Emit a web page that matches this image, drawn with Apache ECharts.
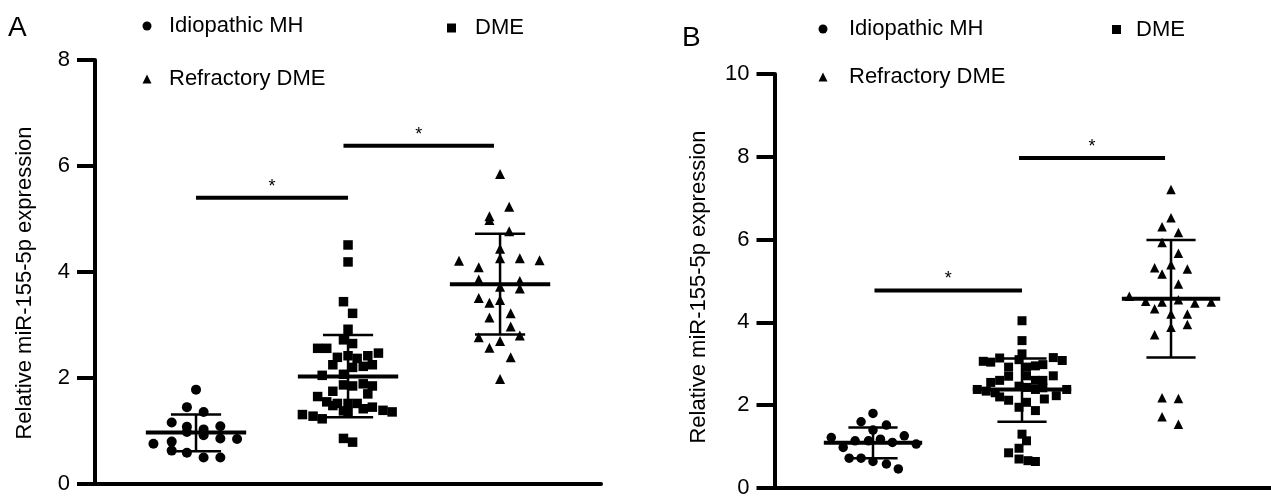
<!DOCTYPE html>
<html>
<head>
<meta charset="utf-8" />
<script src="https://cdn.jsdelivr.net/npm/echarts@6/dist/echarts.min.js"></script>
<style>
  html, body { margin: 0; padding: 0; background: #fff; }
  #main { width: 1271px; height: 499px; }
</style>
</head>
<body>
<div id="main"></div>
<script>
// groups sit at x = 1, 2, 3 ; each point is [offset from group centre, value]
var groups = ['Idiopathic MH', 'DME', 'Refractory DME'];

// ---- panel A ----
var mhA = [[0,1.78],[-0.06,1.45],[0.05,1.36],[-0.16,1.16],[-0.06,1.08],[0.05,1.03],[0.16,1.09],[-0.06,0.98],[0.05,0.92],
  [0.16,0.86],[0.27,0.85],[-0.16,0.80],[-0.28,0.76],[-0.16,0.63],[-0.06,0.59],[0.05,0.50],[0.16,0.50]];
var dmeA = [[0,4.51],[0,4.19],[-0.03,3.44],[0.03,3.22],[0,2.92],[-0.03,2.72],[0.03,2.65],[-0.20,2.56],[-0.14,2.56],
  [-0.07,2.39],[0,2.42],[0.06,2.37],[0.13,2.42],[0.20,2.47],[-0.10,2.25],[0.03,2.20],[0.10,2.22],[0.16,2.25],
  [-0.17,2.05],[-0.03,2.07],[-0.03,1.87],[0.03,1.85],[0.10,1.89],[0.16,1.85],[0.13,1.70],[-0.10,1.75],[-0.20,1.65],
  [-0.14,1.55],[-0.10,1.48],[-0.07,1.52],[0,1.52],[0.06,1.52],[-0.03,1.38],[0,1.36],[0.10,1.42],[0.16,1.45],
  [0.23,1.39],[0.29,1.36],[-0.30,1.31],[-0.23,1.28],[-0.17,1.23],[-0.03,0.86],[0.03,0.79]];
var refA = [[0,5.85],[0.06,5.23],[-0.07,5.05],[-0.07,4.98],[0.06,4.77],[0,4.44],[0,4.26],[0.13,4.26],[0.26,4.22],
  [-0.27,4.21],[-0.14,4.09],[-0.14,3.86],[0.13,3.83],[0.13,3.69],[0,3.72],[-0.14,3.51],[-0.07,3.42],[0,3.47],
  [0.07,3.22],[-0.07,3.14],[0.07,2.97],[-0.14,2.77],[0.13,2.80],[0,2.70],[-0.07,2.57],[0.07,2.39],[0,1.98]];
var meanA = [0.97, 2.03, 3.77];
var lowA = [0.62, 1.26, 2.82];
var highA = [1.31, 2.81, 4.72];
var sigA = [[1, 2, 5.40], [1.97, 2.96, 6.38]];   // from, to, height
var ticksA = [0, 8, 2];

// ---- panel B ----
var mhB = [[0,1.80],[-0.08,1.60],[0.09,1.52],[0,1.40],[-0.28,1.22],[0.21,1.26],[-0.20,0.98],[-0.12,1.14],[-0.03,1.14],
  [0.05,1.18],[0.13,1.10],[0.29,1.06],[-0.16,0.72],[-0.08,0.72],[0,0.64],[0.09,0.58],[0.17,0.46]];
var dmeB = [[0,4.04],[0,3.56],[0,3.24],[-0.26,3.06],[-0.21,3.04],[-0.15,3.14],[-0.02,3.10],[0.21,3.15],[0.27,3.08],
  [-0.09,2.92],[0.03,2.92],[0.09,2.95],[0.14,2.98],[-0.09,2.70],[0.03,2.71],[0.21,2.71],[-0.21,2.55],[-0.15,2.60],
  [0.09,2.60],[0.14,2.60],[-0.30,2.38],[-0.24,2.34],[-0.18,2.30],[-0.02,2.46],[0.03,2.43],[0.09,2.38],[0.14,2.42],
  [0.30,2.38],[0.23,2.23],[-0.15,2.20],[-0.09,2.12],[0.03,2.07],[0.15,2.15],[-0.02,1.95],[0.09,1.87],[0,1.30],
  [0.03,1.14],[-0.02,0.96],[-0.09,0.85],[-0.02,0.70],[0.04,0.66],[0.09,0.64]];
var refB = [[0,7.21],[0,6.53],[-0.06,6.31],[0.05,6.17],[-0.06,5.93],[0.05,5.67],[0,5.39],[-0.11,5.32],[-0.06,5.17],
  [0.11,5.29],[0.05,4.93],[-0.28,4.63],[-0.17,4.51],[-0.06,4.49],[0.05,4.55],[0.16,4.47],[0.27,4.49],[-0.11,4.33],
  [0,4.20],[0.11,4.20],[0.11,3.95],[0,3.88],[-0.11,3.70],[-0.06,2.18],[0.05,2.16],[-0.06,1.72],[0.05,1.54]];
var meanB = [1.09, 2.38, 4.57];
var lowB = [0.72, 1.60, 3.15];
var highB = [1.46, 3.13, 5.99];
var sigB = [[1.01, 2.0, 4.77], [1.98, 2.96, 7.97]];
var ticksB = [0, 10, 2];

var FONT = 'Liberation Sans, Arial, Helvetica, sans-serif';
var yTitle = 'Relative miR-155-5p expression';

function scatter(name, symbol, pts, pos, idx, size) {
  return {
    type: 'scatter', name: name, symbol: symbol, symbolSize: size,
    xAxisIndex: idx, yAxisIndex: idx,
    itemStyle: { color: '#000', opacity: 1 },
    silent: true, z: 3,
    data: pts.map(function (p) { return [pos + p[0], p[1]]; })
  };
}

function errorBars(params, api) {
  var x = api.value(0);
  var m = api.coord([x, api.value(1)]);
  var lo = api.coord([x, api.value(2)]);
  var hi = api.coord([x, api.value(3)]);
  var wm = api.size([0.33, 0])[0];
  var ws = api.size([0.165, 0])[0];
  var st = { stroke: '#000', lineWidth: 2.5 };
  return {
    type: 'group',
    children: [
      { type: 'line', shape: { x1: m[0], y1: lo[1], x2: m[0], y2: hi[1] }, style: st },
      { type: 'line', shape: { x1: m[0] - ws, y1: lo[1], x2: m[0] + ws, y2: lo[1] }, style: st },
      { type: 'line', shape: { x1: m[0] - ws, y1: hi[1], x2: m[0] + ws, y2: hi[1] }, style: st },
      { type: 'line', shape: { x1: m[0] - wm, y1: m[1], x2: m[0] + wm, y2: m[1] }, style: { stroke: '#000', lineWidth: 4 } }
    ]
  };
}

function sigBars(params, api) {
  var a = api.coord([api.value(0), api.value(2)]);
  var b = api.coord([api.value(1), api.value(2)]);
  return {
    type: 'group',
    children: [
      { type: 'line', shape: { x1: a[0], y1: a[1], x2: b[0], y2: b[1] }, style: { stroke: '#000', lineWidth: 4 } },
      { type: 'text', x: (a[0] + b[0]) / 2, y: a[1] - 11,
        style: { text: '*', fontSize: 18, fontFamily: FONT, fill: '#000', align: 'center', verticalAlign: 'middle' } }
    ]
  };
}

function summary(mean, low, high) {
  return mean.map(function (v, i) { return [i + 1, v, low[i], high[i]]; });
}

function xAxis(idx, min, max) {
  return {
    type: 'value', gridIndex: idx, min: min, max: max,
    axisLine: { show: true, onZero: false, lineStyle: { color: '#000', width: 4 } },
    axisTick: { show: false }, axisLabel: { show: false }, splitLine: { show: false }
  };
}

function yAxis(idx, t) {
  return {
    type: 'value', gridIndex: idx, min: t[0], max: t[1], interval: t[2],
    axisLine: { show: true, onZero: false, lineStyle: { color: '#000', width: 4 } },
    axisTick: { show: true, length: 18, lineStyle: { color: '#000', width: 4 } },
    axisLabel: { color: '#000', fontSize: 22, fontFamily: FONT, margin: 25 },
    splitLine: { show: false }
  };
}

// single-item legend; icon centre at (cx, cy), text starting at tx
function legend(name, cx, cy, tx) {
  return {
    data: [name], left: cx - 4.5, top: cy - 11, padding: 0, itemWidth: 9, itemHeight: 9,
    selectedMode: false,
    textStyle: { color: '#000', fontSize: 22, fontFamily: FONT, padding: [0, 0, 0, tx - cx - 9.5] }
  };
}

var chart = echarts.init(document.getElementById('main'));
chart.setOption({
  animation: false,
  backgroundColor: '#fff',
  grid: [
    { left: 95, top: 60, right: 670, bottom: 15 },
    { left: 774.5, top: 74, right: 0, bottom: 10.7 }
  ],
  xAxis: [xAxis(0, 0.3355, 3.664), xAxis(1, 0.339, 3.671)],
  yAxis: [yAxis(0, ticksA), yAxis(1, ticksB)],
  legend: [
    legend(groups[0], 147, 26, 169),
    legend(groups[1], 451.5, 28, 475),
    legend(groups[2], 147, 79, 169),
    legend(groups[0], 823, 29, 849),
    legend(groups[1], 1116.5, 29.5, 1136),
    legend(groups[2], 823, 77, 849)
  ],
  graphic: [
    { type: 'text', left: 8, top: 14, style: { text: 'A', fontSize: 28, fontFamily: FONT, fill: '#000' } },
    { type: 'text', left: 682, top: 24, style: { text: 'B', fontSize: 28, fontFamily: FONT, fill: '#000' } },
    { type: 'text', x: 24.5, y: 283, rotation: Math.PI / 2,
      style: { text: yTitle, fontSize: 22, fontFamily: FONT, fill: '#000', align: 'center', verticalAlign: 'middle' } },
    { type: 'text', x: 698.5, y: 287, rotation: Math.PI / 2,
      style: { text: yTitle, fontSize: 22, fontFamily: FONT, fill: '#000', align: 'center', verticalAlign: 'middle' } }
  ],
  series: [
    { type: 'custom', xAxisIndex: 0, yAxisIndex: 0, renderItem: errorBars, encode: { x: 0, y: [1, 2, 3] },
      data: summary(meanA, lowA, highA), silent: true, z: 2 },
    { type: 'custom', xAxisIndex: 0, yAxisIndex: 0, renderItem: sigBars, encode: { x: [0, 1], y: 2 },
      data: sigA, silent: true, z: 2 },
    scatter(groups[0], 'circle', mhA, 1, 0, 10),
    scatter(groups[1], 'rect', dmeA, 2, 0, 9.5),
    scatter(groups[2], 'triangle', refA, 3, 0, 10),

    { type: 'custom', xAxisIndex: 1, yAxisIndex: 1, renderItem: errorBars, encode: { x: 0, y: [1, 2, 3] },
      data: summary(meanB, lowB, highB), silent: true, z: 2 },
    { type: 'custom', xAxisIndex: 1, yAxisIndex: 1, renderItem: sigBars, encode: { x: [0, 1], y: 2 },
      data: sigB, silent: true, z: 2 },
    scatter(groups[0], 'circle', mhB, 1, 1, 9.5),
    scatter(groups[1], 'rect', dmeB, 2, 1, 9),
    scatter(groups[2], 'triangle', refB, 3, 1, 9.5)
  ]
});
</script>
</body>
</html>
